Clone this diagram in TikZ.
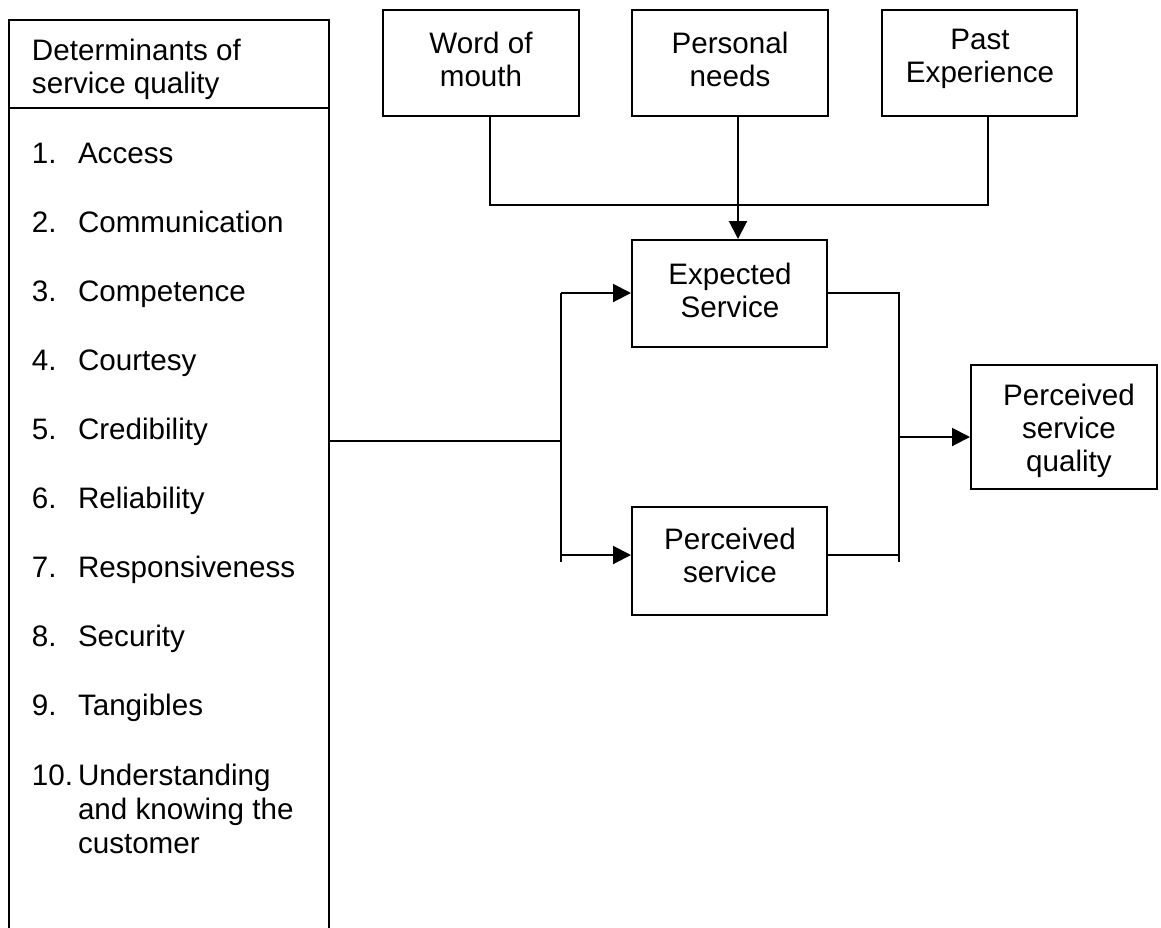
\documentclass[tikz,border=0pt]{standalone}
\usepackage{fontspec}
\setmainfont{Liberation Sans}
\usetikzlibrary{arrows.meta,fit}
\begin{document}
\begin{tikzpicture}[x=0.5pt,y=-0.5pt,line width=1pt,
  box/.style={draw,inner sep=0pt},
  txt/.style={inner sep=0pt,align=center,font=\fontsize{14.8}{16.5}\selectfont},
  ltxt/.style={inner sep=0pt,anchor=base west,font=\fontsize{14.8}{16.5}\selectfont},
  arr/.style={-{Triangle[length=9pt,width=9pt]}}]
\clip (0,0) rectangle (1161,927);
\useasboundingbox (0,0) rectangle (1161,927);
% left box
\node[box,fit={(9,20) (329,960)}] (det) {};
\coordinate (dv1) at (9,108);
\coordinate (dv2) at (329,108);
\draw (dv1) -- (dv2);
\node[ltxt] (h1) at (31,60) {Determinants of};
\node[ltxt] (h2) at (31,93) {service quality};
\foreach \t [count=\i] in {Access,Communication,Competence,Courtesy,Credibility,Reliability,Responsiveness,Security,Tangibles}{
  \pgfmathsetmacro\yy{163+69.1*(\i-1)}
  \node[ltxt] (n\i) at (31,\yy) {\i.};
  \node[ltxt] (t\i) at (77,\yy) {\t};
}
\node[ltxt] (n10) at (31,785) {10.};
\node[ltxt] (t10a) at (77,785) {Understanding};
\node[ltxt] (t10b) at (77,819) {and knowing the};
\node[ltxt] (t10c) at (77,853) {customer};
% top boxes
\node[box,fit={(383,10) (579,116)}] (wom) {};
\node[txt] (womt) at (481,59) {Word of\\mouth};
\node[box,fit={(632,10) (828,116)}] (pne) {};
\node[txt] (pnet) at (730,59) {Personal\\needs};
\node[box,fit={(882,10) (1077,116)}] (pex) {};
\node[txt] (pext) at (980,59) {Past\\Experience};
% middle boxes
\node[box,fit={(632,240) (827,347)}] (exp) {};
\node[txt] (expt) at (730,290) {Expected\\Service};
\node[box,fit={(632,507) (827,615)}] (per) {};
\node[txt] (pert) at (730,555) {Perceived\\service};
\node[box,fit={(971,365) (1157,489)}] (psq) {};
\node[txt] (psqt) at (1069,431) {Perceived\\service\\quality};
% top connectors
\coordinate (j1) at (490,205);
\coordinate (j2) at (738,205);
\coordinate (j3) at (988,205);
\draw (wom.south -| j1) -- (j1) -- (j3) -- (pex.south -| j3);
\draw[arr] (pne.south -| j2) -- (exp.north -| j2);
% left bracket
\coordinate (b1) at (561,441);
\coordinate (bt) at (561,293);
\coordinate (bb) at (561,562);
\coordinate (pa) at (561,555);
\draw (det.east |- b1) -- (b1);
\draw (bt) -- (bb);
\draw[arr] (bt) -- (exp.west |- bt);
\draw[arr] (pa) -- (per.west |- pa);
% right bracket
\coordinate (rt) at (899,293);
\coordinate (rb) at (899,562);
\coordinate (rp) at (899,555);
\coordinate (rm) at (899,437);
\draw (exp.east |- rt) -- (rt) -- (rb);
\draw (per.east |- rp) -- (rp);
\draw[arr] (rm) -- (psq.west |- rm);
\end{tikzpicture}
\end{document}
